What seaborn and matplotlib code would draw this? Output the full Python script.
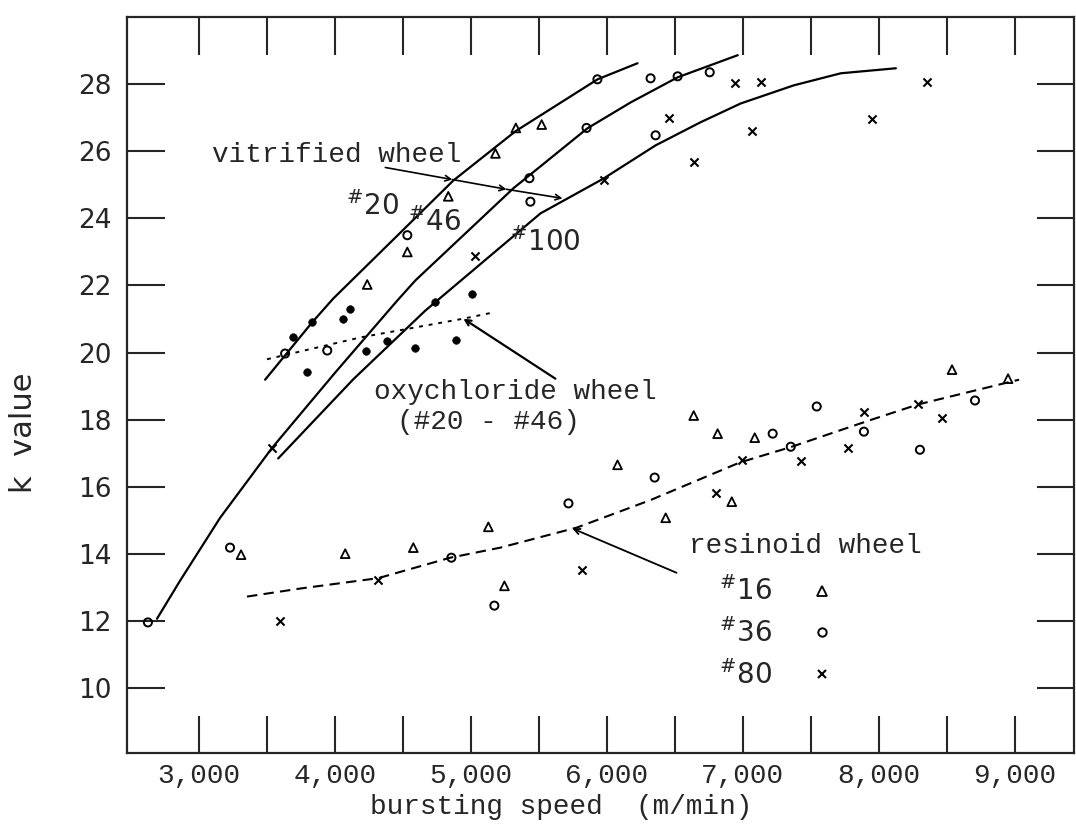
import numpy as np
import pandas as pd
import matplotlib
matplotlib.use("Agg")
import matplotlib.pyplot as plt
from matplotlib.lines import Line2D
import seaborn as sns

# vitrified wheel - drawn curves (bursting speed m/min, k value)
v20_x = [3486, 3832, 3987, 4429, 4870, 5327, 5931, 6225]
v20_y = [19.19, 20.9, 21.61, 23.37, 25.13, 26.6, 28.15, 28.63]
v46_x = [2691, 2860, 3155, 3538, 4001, 4458, 4591, 5312, 5857, 6174, 6520, 6962]
v46_y = [12.06, 13.19, 15.07, 17.16, 19.4, 21.55, 22.15, 24.9, 26.69, 27.46, 28.21, 28.87]
v100_x = [3582, 4134, 4664, 5511, 5975, 6358, 6689, 6984, 7374, 7720, 8125]
v100_y = [16.84, 19.2, 21.25, 24.15, 25.19, 26.18, 26.87, 27.43, 27.97, 28.33, 28.48]

# vitrified wheel - measured points
vt_x = [4237, 4532, 4833, 5180, 5330, 5520]
vt_y = [22.03, 23.0, 24.66, 25.94, 26.7, 26.8]
vo_x = [2624, 3633, 3943, 4532, 5430, 5437, 5850, 5930, 6321, 6358, 6520, 6756]
vo_y = [11.95, 19.97, 20.06, 23.5, 25.2, 24.5, 26.7, 28.15, 28.18, 26.48, 28.24, 28.36]
vx_x = [3538, 5032, 5975, 6454, 6638, 6940, 7065, 7131, 7948, 8353]
vx_y = [17.16, 22.87, 25.16, 27.0, 25.67, 28.03, 26.6, 28.06, 26.98, 28.06]

# oxychloride wheel (#20 - #46)
ox_x = [3692, 3795, 3832, 4060, 4112, 4230, 4384, 4591, 4738, 4893, 5010]
ox_y = [20.45, 19.43, 20.9, 20.99, 21.3, 20.06, 20.33, 20.15, 21.5, 20.36, 21.76]
oxl_x = [3500, 4186, 4944, 5157]
oxl_y = [19.8, 20.45, 21.01, 21.19]

# resinoid wheel
r16_x = [3309, 4075, 4576, 5128, 5246, 6078, 6432, 6638, 6814, 6918, 7087, 8538, 8950]
r16_y = [13.97, 14.0, 14.18, 14.8, 13.04, 16.65, 15.07, 18.12, 17.58, 15.55, 17.46, 19.49, 19.22]
r36_x = [3228, 4856, 5172, 5717, 6351, 7219, 7352, 7543, 7890, 8302, 8707]
r36_y = [14.18, 13.88, 12.45, 15.5, 16.27, 17.58, 17.19, 18.39, 17.64, 17.1, 18.57]
r80_x = [3596, 4318, 5813, 6800, 6991, 7426, 7772, 7890, 8287, 8464]
r80_y = [12.0, 13.2, 13.5, 15.82, 16.78, 16.75, 17.16, 18.24, 18.45, 18.06]
rl_x = [3353, 3744, 4318, 4848, 5216, 5780, 6321, 6977, 7352, 7926, 8287, 9031]
rl_y = [12.72, 12.96, 13.27, 13.88, 14.18, 14.78, 15.6, 16.72, 17.18, 17.97, 18.45, 19.19]

x_ticks = list(range(3000, 9001, 500))
x_labels = ["3,000", "", "4,000", "", "5,000", "", "6,000", "", "7,000", "", "8,000", "", "9,000"]
y_ticks = list(range(10, 29, 2))

MONO = "Liberation Mono"
SH = r"$^{\#}$"  # small raised number sign as typed on the original

sns.set_style("ticks")
plt.rcParams["font.family"] = ["DejaVu Sans"]
plt.rcParams["mathtext.fontset"] = "dejavusans"

fig, ax = plt.subplots(figsize=(10.76, 8.24), dpi=100)
fig.subplots_adjust(left=0.118, right=0.998, bottom=0.086, top=0.979)

# curves
for cx, cy in [(v20_x, v20_y), (v46_x, v46_y), (v100_x, v100_y)]:
    sns.lineplot(x=cx, y=cy, sort=False, estimator=None, color="black", lw=1.6, ax=ax)
sns.lineplot(x=oxl_x, y=oxl_y, sort=False, estimator=None, color="black", lw=1.4,
             linestyle=(0, (2, 3)), ax=ax)
sns.lineplot(x=rl_x, y=rl_y, sort=False, estimator=None, color="black", lw=1.5,
             linestyle=(0, (5, 3)), ax=ax)

# points
tri = dict(marker="^", s=40, color="black", facecolor="none", edgecolor="black", linewidth=1.3)
circ = dict(marker="o", s=34, color="black", facecolor="none", edgecolor="black", linewidth=1.4)
cross = dict(marker="x", s=34, color="black", linewidth=1.5)
sns.scatterplot(x=vt_x, y=vt_y, ax=ax, **tri)
sns.scatterplot(x=vo_x, y=vo_y, ax=ax, **circ)
sns.scatterplot(x=vx_x, y=vx_y, ax=ax, **cross)
sns.scatterplot(x=r16_x, y=r16_y, ax=ax, **tri)
sns.scatterplot(x=r36_x, y=r36_y, ax=ax, **circ)
sns.scatterplot(x=r80_x, y=r80_y, ax=ax, **cross)
sns.scatterplot(x=ox_x, y=ox_y, ax=ax, marker="o", s=30, color="black", edgecolor="black")

# annotations
ax.text(4009, 25.67, "vitrified wheel", family=MONO, fontsize=20, ha="center", va="baseline")
arrow = dict(arrowstyle="->", color="black", lw=1.2, shrinkA=0, shrinkB=0)
ax.annotate("", xy=(4863, 25.16), xytext=(4370, 25.52), arrowprops=arrow)
ax.annotate("", xy=(5261, 24.87), xytext=(4863, 25.16), arrowprops=arrow)
ax.annotate("", xy=(5673, 24.6), xytext=(5261, 24.87), arrowprops=arrow)
ax.text(4274, 24.09, SH + "20", fontsize=20, ha="center", va="baseline")
ax.text(4731, 23.64, SH + "46", fontsize=20, ha="center", va="baseline")
ax.text(5548, 23.04, SH + "100", fontsize=20, ha="center", va="baseline")

ax.text(5327, 18.6, "oxychloride wheel", family=MONO, fontsize=20, ha="center", va="baseline")
ax.text(5128, 17.72, "(#20 - #46)", family=MONO, fontsize=20, ha="center", va="baseline")
ax.annotate("", xy=(4944, 21.01), xytext=(5621, 19.22),
            arrowprops=dict(arrowstyle="->", color="black", lw=1.6, shrinkA=0, shrinkB=0))

ax.text(7462, 14.03, "resinoid wheel", family=MONO, fontsize=20, ha="center", va="baseline")
ax.annotate("", xy=(5747, 14.75), xytext=(6512, 13.43),
            arrowprops=dict(arrowstyle="->", color="black", lw=1.3, shrinkA=0, shrinkB=0))

handles = [
    Line2D([], [], ls="none", marker="^", ms=7, mfc="none", mec="black", mew=1.3),
    Line2D([], [], ls="none", marker="o", ms=6, mfc="none", mec="black", mew=1.4),
    Line2D([], [], ls="none", marker="x", ms=6, color="black", mew=1.5),
]
ax.legend(handles, [SH + "16", SH + "36", SH + "80"], loc="upper left",
          bbox_to_anchor=(0.625, 0.24), frameon=False, markerfirst=False, fontsize=20,
          handlelength=1.0, handletextpad=1.3, labelspacing=0.42, borderpad=0,
          borderaxespad=0)

# axes
ax.set_xlim(2470, 9434)
ax.set_ylim(8.05, 30.0)
ax.set_xticks(x_ticks, x_labels)
ax.set_yticks(y_ticks)
ax.tick_params(axis="both", direction="in", length=27, width=1.5, top=True, right=True)
ax.tick_params(axis="x", pad=7, labelsize=20)
ax.tick_params(axis="y", pad=11, labelsize=19)
for lab in ax.get_xticklabels():
    lab.set_fontfamily(MONO)
for sp in ax.spines.values():
    sp.set_linewidth(1.6)
    sp.set_visible(True)

ax.set_xlabel("bursting speed  (m/min)", family=MONO, fontsize=20)
ax.xaxis.set_label_coords(0.459, -0.056)
ax.set_ylabel("k  value", fontsize=22)
ax.yaxis.set_label_coords(-0.094, 0.436)

fig.savefig("out.png", dpi=100)
